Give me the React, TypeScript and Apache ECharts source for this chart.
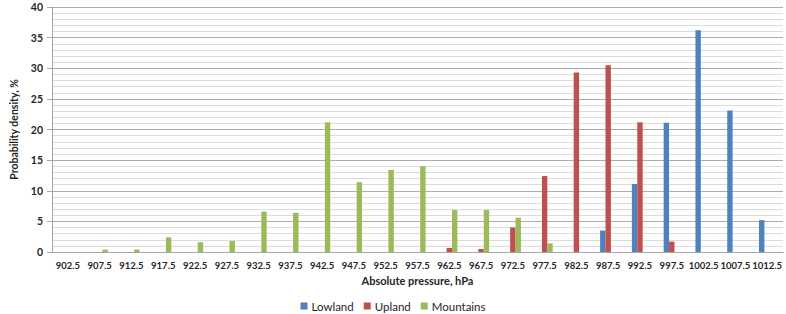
import React, { useEffect, useRef } from "react";
import * as echarts from "echarts";

// Pressure bins (hPa) and probability density (%) per terrain type
const categories = [
  "902.5", "907.5", "912.5", "917.5", "922.5", "927.5", "932.5", "937.5",
  "942.5", "947.5", "952.5", "957.5", "962.5", "967.5", "972.5", "977.5",
  "982.5", "987.5", "992.5", "997.5", "1002.5", "1007.5", "1012.5",
];

const lowland = [
  0, 0, 0, 0, 0, 0, 0, 0, 0, 0, 0, 0, 0, 0, 0, 0,
  0, 3.5, 11.1, 21.1, 36.2, 23.1, 5.2,
];

const upland = [
  0, 0, 0, 0, 0, 0, 0, 0, 0, 0, 0, 0, 0.65, 0.5, 4.0, 12.4,
  29.3, 30.5, 21.2, 1.7, 0, 0, 0,
];

const mountains = [
  0, 0.4, 0.4, 2.4, 1.6, 1.8, 6.6, 6.4, 21.2, 11.4, 13.4, 14.0, 6.85, 6.85, 5.6, 1.4,
  0, 0, 0, 0, 0, 0, 0,
];

const seriesNames = ["Lowland", "Upland", "Mountains"];
const seriesColors = ["#4f81bd", "#c0504d", "#9bbb59"];

const FONT = "Lato, 'Open Sans', sans-serif";
const TEXT = "#262626";

export default function App() {
  const ref = useRef<HTMLDivElement>(null);

  useEffect(() => {
    document.body.style.margin = "0";
    if (!ref.current) return;
    const chart = echarts.init(ref.current, undefined, { renderer: "svg" });

    const values = [lowland, upland, mountains];

    chart.setOption({
      animation: false,
      textStyle: { fontFamily: FONT },
      grid: { left: 35, right: 3, top: 7, bottom: 62, containLabel: false },
      legend: {
        data: seriesNames,
        left: "center",
        top: 295,
        itemWidth: 7,
        itemHeight: 7,
        itemGap: 10,
        icon: "rect",
        textStyle: { fontFamily: FONT, fontSize: 11.5, color: TEXT, padding: [0, 0, 0, -1] },
      },
      xAxis: {
        type: "category",
        data: categories,
        name: "Absolute pressure, hPa",
        nameLocation: "middle",
        nameGap: 20,
        nameTextStyle: { fontFamily: FONT, fontWeight: "bold", fontSize: 11, color: TEXT },
        axisLine: { show: true, lineStyle: { color: "#a6a6a6" } },
        axisTick: { show: false },
        axisLabel: {
          fontFamily: FONT,
          fontWeight: "bold",
          fontSize: 9.5,
          color: TEXT,
          margin: 8,
          interval: 0,
        },
      },
      yAxis: {
        type: "value",
        min: 0,
        max: 40,
        interval: 5,
        name: "Probability density, %",
        nameLocation: "middle",
        nameGap: 33,
        nameTextStyle: { fontFamily: FONT, fontWeight: "bold", fontSize: 10.5, color: TEXT },
        axisLine: { show: true, lineStyle: { color: "#a6a6a6" } },
        axisTick: { show: true, length: 5, lineStyle: { color: "#a6a6a6" } },
        axisLabel: {
          fontFamily: FONT,
          fontWeight: "bold",
          fontSize: 10.5,
          color: TEXT,
          margin: 9,
        },
        splitLine: { show: true, lineStyle: { color: "#adadad", width: 1 } },
        minorTick: { show: false, splitNumber: 5 },
        minorSplitLine: { show: true, lineStyle: { color: "#dcdcdc", width: 1 } },
      },
      series: seriesNames.map((name, i) => ({
        name,
        type: "bar",
        data: values[i],
        barWidth: 5.4,
        barGap: "0%",
        itemStyle: {
          color: seriesColors[i],
        },
      })),
    });

    return () => chart.dispose();
  }, []);

  return <div ref={ref} style={{ width: 786, height: 314 }} />;
}
